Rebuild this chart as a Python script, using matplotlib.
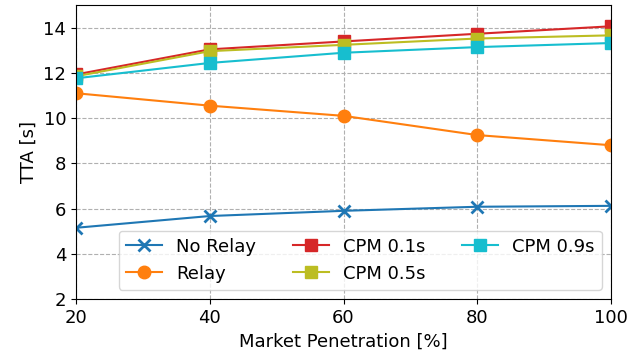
from matplotlib import pyplot as plt
import matplotlib as mpl
import numpy as np

# === DATA === #
penetration = [20, 40, 60, 80, 100]
no_relay = [5.15, 5.67, 5.9, 6.08, 6.12]
relay = [11.1, 10.55, 10.1, 9.25, 8.8]
cpm_01 = [11.93, 13.04, 13.39, 13.73, 14.06]
cpm_05 = [11.85, 12.96, 13.24, 13.52, 13.66]
cpm_09 = [11.76, 12.44, 12.89, 13.14, 13.32]

# === STYLE === #
mpl.rcParams['font.family'] = 'DejaVu Sans'
mpl.rcParams['font.size'] = 13
MS = 9  # marker size
LW = 1.5

fig, ax = plt.subplots(figsize=(6.41, 3.6), dpi=100)

ax.plot(penetration, no_relay, '-x', color='tab:blue', label='No Relay', markersize=MS, mew=2, lw=LW)
ax.plot(penetration, relay, '-o', color='tab:orange', label='Relay', markersize=MS, lw=LW)
ax.plot(penetration, cpm_01, '-s', color='tab:red', label='CPM 0.1s', markersize=MS, lw=LW)
ax.plot(penetration, cpm_05, '-s', color='tab:olive', label='CPM 0.5s', markersize=MS, lw=LW)
ax.plot(penetration, cpm_09, '-s', color='tab:cyan', label='CPM 0.9s', markersize=MS, lw=LW)

ax.set_xlim(20, 100)
ax.set_ylim(2, 15)
ax.set_xticks(penetration)
ax.set_yticks([2, 4, 6, 8, 10, 12, 14])
ax.grid(True, linestyle='--', color='#b0b0b0')
ax.set_xlabel('Market Penetration [%]')
ax.set_ylabel('TTA [s]')
ax.legend(ncol=3, loc='lower right')

fig.subplots_adjust(left=0.1186, right=0.9532, top=0.986, bottom=0.1694)
fig.savefig('out.png')
